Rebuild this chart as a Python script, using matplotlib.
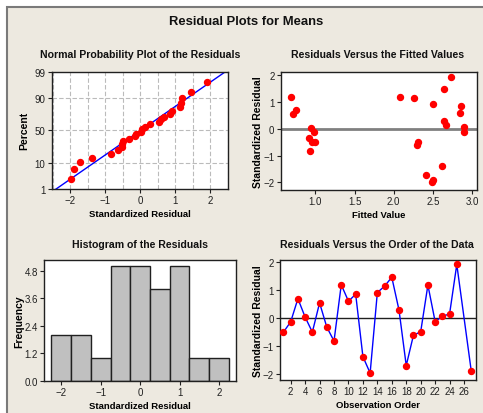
import numpy as np
import matplotlib.pyplot as plt
from matplotlib.patches import Rectangle
from statistics import NormalDist

# residuals, in observation order (observation 26 has no value)
obs_order = [1, 2, 3, 4, 5, 6, 7, 8, 9, 10, 11, 12, 13, 14, 15, 16, 17, 18, 19, 20,
             21, 22, 23, 24, 25, 27]
residuals = [-0.51, -0.14, 0.69, 0.03, -0.51, 0.54, -0.33, -0.83, 1.19, 0.60,
             0.85, -1.39, -1.98, 0.91, 1.14, 1.46, 0.28, -1.71, -0.62, -0.50,
             1.18, -0.13, 0.06, 0.14, 1.92, -1.90]
fitted_values = [0.953, 0.987, 0.757, 0.945, 0.991, 0.715, 0.915, 0.928, 0.690, 2.847,
                 2.855, 2.613, 2.494, 2.498, 2.264, 2.647, 2.647, 2.413, 2.298, 2.310,
                 2.077, 2.894, 2.898, 2.664, 2.730, 2.498]

pct_ticks = [1, 10, 50, 90, 99]
hist_bins = [-2.25, -1.75, -1.25, -0.75, -0.25, 0.25, 0.75, 1.25, 1.75, 2.25]
hist_yticks = [0.0, 1.2, 2.4, 3.6, 4.8]
order_xticks = [2, 4, 6, 8, 10, 12, 14, 16, 18, 20, 22, 24, 26]

plt.rcParams['font.family'] = ['Liberation Sans', 'DejaVu Sans']
W, H = 483, 414
bg = '#EDE9E0'
red = '#FF0000'
blue = '#0000FF'
XL = dict(fontsize=6.8, fontweight='bold', labelpad=3)


def px_axes(fig, left, top, right, bottom):
    return fig.add_axes([left / W, 1 - bottom / H, (right - left) / W, (bottom - top) / H])


def style(ax):
    ax.set_facecolor('white')
    for s in ax.spines.values():
        s.set_color('#202020')
        s.set_linewidth(1.0)
    ax.tick_params(direction='out', length=3, width=0.8, colors='#202020',
                   labelsize=7, pad=1.5)


def title(x, y, txt, size=7.6):
    fig.text(x / W, 1 - y / H, txt, ha='center', va='center', fontsize=size,
             fontweight='bold', color='#111111')


fig = plt.figure(figsize=(W / 100, H / 100), dpi=100)
fig.patch.set_facecolor('white')
fig.patches.append(Rectangle((7 / W, -0.01), 1.0, 1 - 8 / H + 0.01, transform=fig.transFigure,
                             facecolor=bg, edgecolor='#7A7A7A', linewidth=1.5, zorder=-5))

title(246, 22, 'Residual Plots for Means', size=9.4)

# normal probability plot
nd = NormalDist()
n = len(residuals)
xs = np.sort(residuals)
zs = [nd.inv_cdf((i + 1 - 0.3) / (n + 0.4)) for i in range(n)]
mu, sd = np.mean(residuals), np.std(residuals, ddof=1)
zlo, zhi = nd.inv_cdf(0.01), nd.inv_cdf(0.99)

ax1 = px_axes(fig, 51.7, 72.7, 228.3, 190)
style(ax1)
for gx in np.arange(-2.5, 2.51, 0.5):
    ax1.axvline(gx, color='#BBBBBB', ls=(0, (4, 2)), lw=0.8, zorder=0)
for p in [10, 50, 90]:
    ax1.axhline(nd.inv_cdf(p / 100), color='#BBBBBB', ls=(0, (4, 2)), lw=0.8, zorder=0)
zline = np.array([zlo - 0.2, zhi + 0.2])
ax1.plot(mu + sd * zline, zline, color=blue, lw=1.0)
ax1.plot(xs, zs, 'o', color=red, ms=4.3, mec=red)
ax1.set_xlim(-2.53, 2.52)
ax1.set_ylim(zlo, zhi)
ax1.set_xticks([-2, -1, 0, 1, 2])
ax1.set_yticks([nd.inv_cdf(p / 100) for p in pct_ticks])
ax1.set_yticklabels([str(p) for p in pct_ticks])
ax1.set_xlabel('Standardized Residual', **XL)
ax1.set_ylabel('Percent', fontsize=7.5, fontweight='bold', labelpad=4)
title(140, 55, 'Normal Probability Plot of the Residuals')

# residuals vs fitted
ax2 = px_axes(fig, 280.7, 73.3, 477, 190.7)
style(ax2)
ax2.axhline(0, color='#808080', lw=2, zorder=1)
ax2.plot(fitted_values, residuals, 'o', color=red, ms=4.3, mec=red, zorder=3)
ax2.set_xlim(0.557, 3.064)
ax2.set_ylim(-2.27, 2.1)
ax2.set_xticks([1.0, 1.5, 2.0, 2.5, 3.0])
ax2.set_xticklabels(['1.0', '1.5', '2.0', '2.5', '3.0'])
ax2.set_yticks([-2, -1, 0, 1, 2])
ax2.set_xlabel('Fitted Value', **XL)
ax2.set_ylabel('Standardized Residual', fontsize=7.5, fontweight='bold', labelpad=0)
title(378, 55, 'Residuals Versus the Fitted Values')

# histogram
ax3 = px_axes(fig, 44.3, 260.7, 236, 381.7)
style(ax3)
ax3.hist(residuals, bins=hist_bins, color='#C0C0C0', edgecolor='#202020', linewidth=1.0)
ax3.set_xlim(-2.43, 2.43)
ax3.set_ylim(0, 5.28)
ax3.set_xticks([-2, -1, 0, 1, 2])
ax3.set_yticks(hist_yticks)
ax3.set_yticklabels([f'{v:.1f}' for v in hist_yticks])
ax3.set_xlabel('Standardized Residual', **XL)
ax3.set_ylabel('Frequency', fontsize=7.5, fontweight='bold', labelpad=0)
title(140, 245, 'Histogram of the Residuals')

# residuals vs order
ax4 = px_axes(fig, 280, 261, 476, 381)
style(ax4)
ax4.axhline(0, color='#202020', lw=1.0, zorder=1)
ax4.plot(obs_order, residuals, '-', color=blue, lw=1.0, zorder=2)
ax4.plot(obs_order, residuals, 'o', color=red, ms=4.3, mec=red, zorder=3)
ax4.set_xlim(0.52, 27.66)
ax4.set_ylim(-2.23, 2.08)
ax4.set_xticks(order_xticks)
ax4.set_yticks([-2, -1, 0, 1, 2])
ax4.set_xlabel('Observation Order', **XL)
ax4.set_ylabel('Standardized Residual', fontsize=7.5, fontweight='bold', labelpad=0)
title(377, 245, 'Residuals Versus the Order of the Data')

fig.savefig('out.png', dpi=100, facecolor=fig.get_facecolor())
